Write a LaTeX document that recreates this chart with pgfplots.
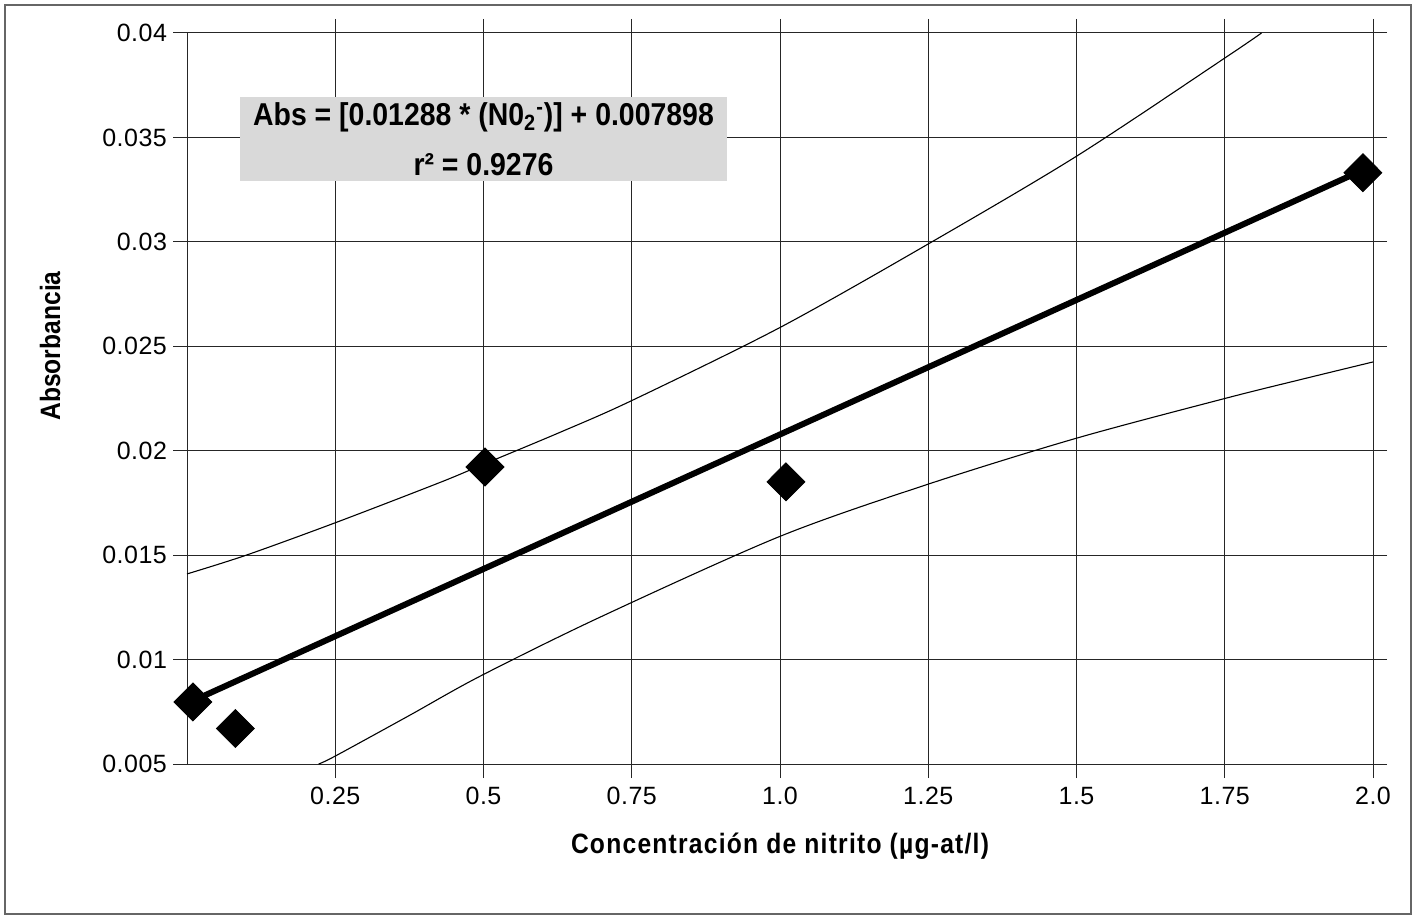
\documentclass[border=0pt]{standalone}
\usepackage{fontspec}
\setmainfont{Liberation Sans}
\newfontfamily\tickfont[LetterSpace=2]{Liberation Sans}
\newfontfamily\narrowbold[FakeStretch=0.88]{Liberation Sans Bold}
\newfontfamily\narrowboldsp[FakeStretch=0.88,LetterSpace=4.4]{Liberation Sans Bold}
\newfontfamily\eqfont[FakeStretch=0.9]{Liberation Sans Bold}
\usepackage{pgfplots}
\pgfplotsset{compat=1.18}
\begin{document}
\begin{tikzpicture}
\path[use as bounding box] (0,0) rectangle (708pt,-459.5pt);
\draw[black!60, line width=0.7pt] (2.5pt,-2.5pt) rectangle (705.5pt,-457pt);
\begin{axis}[
  at={(93.5pt,-16.5pt)}, anchor=north west,
  scale only axis, width=593pt, height=365.5pt,
  xmin=0, xmax=2, ymin=0.005, ymax=0.04,
  scaled y ticks=false, scaled x ticks=false,
  xtick={0.25,0.5,0.75,1.0,1.25,1.5,1.75,2.0},
  xticklabels={0.25,0.5,0.75,1.0,1.25,1.5,1.75,2.0},
  ytick={0.005,0.01,0.015,0.02,0.025,0.03,0.035,0.04},
  yticklabels={0.005,0.01,0.015,0.02,0.025,0.03,0.035,0.04},
  grid=major, grid style={black!85, line width=0.5pt},
  axis line style={black!85, line width=0.5pt},
  tick align=outside, major tick length=7pt,
  tick style={black!85, line width=0.5pt},
  tick label style={font=\tickfont\fontsize{12.5}{14}\selectfont},
  xticklabel style={yshift=-1pt},
  yticklabel style={xshift=0.5pt},
  xlabel={\narrowboldsp Concentración de nitrito (µg-at/l)},
  ylabel={\narrowbold Absorbancia},
  label style={font=\fontsize{14}{16}\selectfont},
  xlabel style={at={(axis description cs:0.5,-0.112)}, anchor=center},
  ylabel style={at={(axis description cs:-0.1155,0.5718)}, anchor=center},
  clip=false,
]
% upper confidence band
\addplot[black, line width=0.55pt, smooth, no markers] coordinates {
 (0,0.0141) (0.1,0.0150) (0.25,0.01655) (0.4266,0.01848) (0.5,0.01935)
 (0.629,0.02088) (0.75,0.0224) (1.0,0.0259) (1.25,0.0299) (1.5,0.0341)
 (1.75,0.0388) (1.812,0.0400)
};
% lower confidence band
\addplot[black, line width=0.55pt, smooth, no markers] coordinates {
 (0.222,0.0050) (0.25,0.00538) (0.376,0.00734) (0.494,0.0092) (0.6965,0.01203)
 (1.0,0.0159) (1.25,0.0184) (1.5,0.0206) (1.75,0.0225)
 (1.877,0.0234) (2.0,0.02425)
};
% regression line
\addplot[black, line width=3pt, no markers] coordinates {
 (0.012,0.008053) (1.983,0.033439)
};
% data points
\addplot[only marks, mark=diamond*, mark size=9.5pt, mark options={xscale=1.33, fill=black, draw=black}] coordinates {
 (0.010,0.00797) (0.0815,0.0067) (0.5025,0.01922) (1.010,0.01851) (1.983,0.03331)
};
\node[fill=black!15, minimum width=243.5pt, minimum height=42pt, inner sep=0pt,
      align=center, font=\eqfont\fontsize{15.8}{25}\selectfont]
  at (rel axis cs:0.25,0.855)
  {Abs = [0.01288 * (N0\textsubscript{2}\textsuperscript{-})] + 0.007898\\ r² = 0.9276};
\end{axis}
\end{tikzpicture}
\end{document}
